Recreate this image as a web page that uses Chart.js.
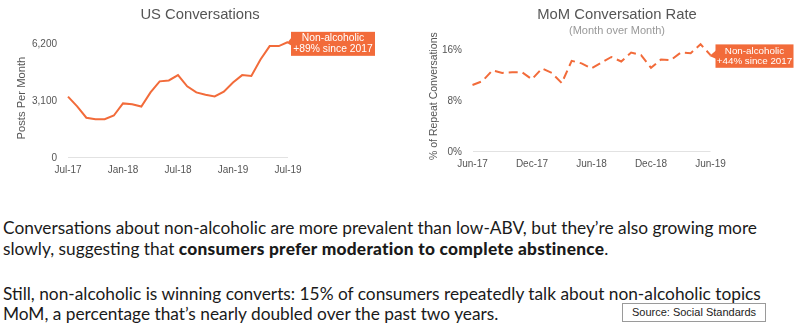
<!DOCTYPE html>
<html>
<head>
<meta charset="utf-8">
<script src="https://cdn.jsdelivr.net/npm/chart.js@4.4.1/dist/chart.umd.min.js"></script>
<style>
  html, body { margin: 0; padding: 0; background: #fff; width: 800px; height: 325px; overflow: hidden; }
  .wrap { position: absolute; top: 0; }
  #w1 { left: 0; width: 400px; height: 183.4px; }
  #w2 { left: 400px; width: 400px; height: 177.4px; }
  .txt { position: absolute; left: 3px; font-family: Lato, "Open Sans", sans-serif; font-size: 17px; line-height: 20.5px; color: #1a1a1a; white-space: nowrap; transform-origin: 0 0; }
  .txt b { font-weight: 900; letter-spacing: 0.25px; }
  #p1 { top: 218px; }
  #p2 { top: 283.5px; }
  #src { position: absolute; left: 622px; top: 303px; width: 142px; height: 17px; border: 1px solid #9a9a9a; font-family: "Liberation Sans", Arial, sans-serif; font-size: 11px; line-height: 17px; text-align: center; color: #222; }
</style>
</head>
<body>
<div class="wrap" id="w1"><canvas id="c1"></canvas></div>
<div class="wrap" id="w2"><canvas id="c2"></canvas></div>
<div class="txt" id="p1"><span id="l1">Conversations about non-alcoholic are more prevalent than low-ABV, but they’re also growing more</span><br>slowly, suggesting that <b>consumers prefer moderation to complete abstinence</b>.</div>
<div class="txt" id="p2">Still, non-alcoholic is winning converts: 15% of consumers repeatedly talk about non-alcoholic topics<br>MoM, a percentage that’s nearly doubled over the past two years.</div>
<div id="src">Source: Social Standards</div>
<script>
// ---- data ----
const months1 = ['Jul-17','Aug-17','Sep-17','Oct-17','Nov-17','Dec-17','Jan-18','Feb-18','Mar-18','Apr-18','May-18','Jun-18','Jul-18','Aug-18','Sep-18','Oct-18','Nov-18','Dec-18','Jan-19','Feb-19','Mar-19','Apr-19','May-19','Jun-19','Jul-19'];
const postsPerMonth = [3330, 2800, 2180, 2100, 2100, 2300, 2960, 2910, 2790, 3560, 4160, 4210, 4500, 3890, 3560, 3430, 3340, 3600, 4100, 4500, 4450, 5350, 6080, 6080, 6300];
const yTicks1 = [0, 3100, 6200];

const months2 = ['Jun-17','Jul-17','Aug-17','Sep-17','Oct-17','Nov-17','Dec-17','Jan-18','Feb-18','Mar-18','Apr-18','May-18','Jun-18','Jul-18','Aug-18','Sep-18','Oct-18','Nov-18','Dec-18','Jan-19','Feb-19','Mar-19','Apr-19','May-19','Jun-19'];
const repeatRate = [10.5, 11.1, 12.8, 12.4, 12.5, 12.5, 11.4, 13.1, 12.4, 10.8, 14.3, 13.9, 13.1, 14.0, 14.9, 14.2, 15.6, 15.2, 13.2, 14.5, 14.4, 15.6, 15.5, 16.9, 15.2];
const yTicks2 = [0, 8, 16];

const callout1 = ['Non-alcoholic', '+89% since 2017'];
const callout2 = ['Non-alcoholic', '+44% since 2017'];

// ---- styles ----
const ORANGE = '#F26B3A';
const FONT = '"Liberation Sans", Arial, sans-serif';
Chart.defaults.font.family = FONT;
Chart.defaults.color = '#555';

const calloutPlugin = {
  id: 'callout',
  afterDatasetsDraw(chart, args, opts) {
    const meta = chart.getDatasetMeta(0);
    const pt = meta.data[meta.data.length - 1];
    const ctx = chart.ctx;
    const x = pt.x + opts.dx, y = pt.y + opts.dy;
    ctx.save();
    ctx.fillStyle = ORANGE;
    ctx.fillRect(x, y, opts.w, opts.h);
    ctx.beginPath();
    ctx.moveTo(x + 1, pt.y - 5);
    ctx.lineTo(pt.x - 1, pt.y + 1);
    ctx.lineTo(x + 1, pt.y + 4);
    ctx.closePath();
    ctx.fill();
    ctx.fillStyle = '#fff';
    ctx.font = opts.fontSize + 'px ' + FONT;
    ctx.textAlign = 'center';
    ctx.textBaseline = 'middle';
    const cx = x + opts.w / 2, cy = y + opts.h / 2;
    ctx.fillText(opts.lines[0], cx, cy - 5.2);
    ctx.fillText(opts.lines[1], cx, cy + 5.4);
    ctx.restore();
  }
};

function makeChart(id, labels, values, yTicks, cfg) {
  return new Chart(document.getElementById(id), {
    type: 'line',
    data: {
      labels: labels,
      datasets: [{
        data: values,
        borderColor: ORANGE,
        borderWidth: 2,
        borderDash: cfg.dash,
        pointRadius: 0,
        tension: 0,
        fill: false,
        yAxisID: 'y'
      }]
    },
    options: {
      responsive: true,
      maintainAspectRatio: false,
      animation: false,
      events: [],
      layout: { padding: { left: cfg.padLeft, right: 0, top: 0, bottom: 0 } },
      plugins: {
        legend: { display: false },
        tooltip: { enabled: false },
        title: {
          display: true, text: cfg.title, color: '#555',
          font: { size: 14.8, weight: 'normal' },
          padding: { top: 6.2, bottom: cfg.titlePadBottom }
        },
        subtitle: {
          display: !!cfg.subtitle, text: cfg.subtitle || '', color: '#999',
          font: { size: 11 },
          padding: { top: 0.7, bottom: 2.6 }
        },
        callout: cfg.callout
      },
      scales: {
        x: {
          grid: { display: false, drawTicks: false },
          border: { display: false },
          ticks: {
            autoSkip: false, maxRotation: 0, padding: 6.8, color: '#555',
            font: { size: 10 },
            callback: function (v, i) { return i % 6 === 0 ? this.getLabelForValue(v) : null; }
          }
        },
        y: {
          min: 0, max: cfg.yMax,
          afterBuildTicks: (s) => { s.ticks = yTicks.map(v => ({ value: v })); },
          afterFit: (s) => { s.width = cfg.yWidth; },
          grid: {
            drawTicks: false,
            color: (c) => (c.tick && c.tick.value === 0) ? '#e2e2e2' : 'rgba(0,0,0,0)',
            lineWidth: 1
          },
          border: { display: false },
          ticks: { padding: cfg.yTickPad, color: '#555', font: { size: 10 }, callback: cfg.fmt },
          title: {
            display: true, text: cfg.yTitle, color: '#555',
            font: { size: cfg.yTitleSize },
            padding: { top: cfg.yTitlePad, bottom: 0 }
          }
        },
        yR: {
          position: 'right',
          display: true,
          grid: { display: false, drawTicks: false },
          border: { display: false },
          ticks: { display: false },
          afterFit: (s) => { s.width = cfg.rightSpace; }
        }
      }
    },
    plugins: [calloutPlugin]
  });
}

makeChart('c1', months1, postsPerMonth, yTicks1, {
  title: 'US Conversations', titlePadBottom: 14.4,
  yMax: 6500, yWidth: 68, yTickPad: 11, rightSpace: 112, padLeft: 0,
  yTitle: 'Posts Per Month', yTitleSize: 11.2, yTitlePad: 15.4,
  fmt: (v) => v.toLocaleString('en-US'),
  dash: [],
  callout: { lines: callout1, dx: 3, dy: -10.2, w: 84, h: 24, fontSize: 10.3 }
});

makeChart('c2', months2, repeatRate, yTicks2, {
  title: 'MoM Conversation Rate', subtitle: '(Month over Month)', titlePadBottom: 0,
  yMax: 17.5, yWidth: 38.5, yTickPad: 10.5, rightSpace: 89.5, padLeft: 34,
  yTitle: '% of Repeat Conversations', yTitleSize: 10.5, yTitlePad: -6.3,
  fmt: (v) => v + '%',
  dash: [9, 5],
  callout: { lines: callout2, dx: 5, dy: -10.7, w: 78, h: 23.4, fontSize: 9.8 }
});

// fit paragraph text width to reference
(function () {
  const l1 = document.getElementById('l1');
  const w = l1.getBoundingClientRect().width;
  const k = 754 / w;
  document.getElementById('p1').style.transform = 'scaleX(' + k + ')';
  document.getElementById('p2').style.transform = 'scaleX(' + k + ')';
})();
</script>
</body>
</html>
